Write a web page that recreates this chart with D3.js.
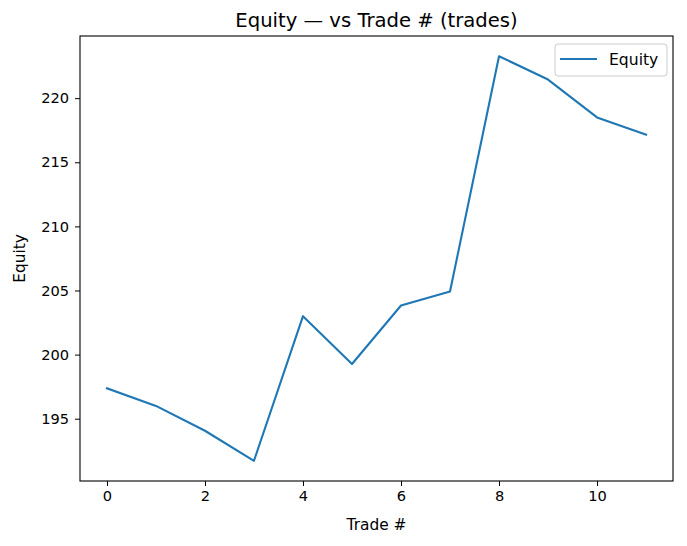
<!DOCTYPE html>
<html><head><meta charset="utf-8">
<script src="https://cdn.jsdelivr.net/npm/d3@7"></script>
<style>body{margin:0;background:#fff}svg{display:block;font-family:"DejaVu Sans",sans-serif}</style>
</head><body><svg id="c" width="687" height="546"></svg>
<script>
const trades = [0,1,2,3,4,5,6,7,8,9,10,11];
const equity = [197.37,196.0,194.06,191.72,203.0,199.27,203.83,204.92,223.27,221.45,218.5,217.15];
const xTicks = [0,2,4,6,8,10];
const yTicks = [195,200,205,210,215,220];
const titleText = "Equity — vs Trade # (trades)";
const xLabel = "Trade #", yLabel = "Equity", seriesName = "Equity";

const L=80,R=673,T=36,B=481;
const svg=d3.select("#c");
const xmin=d3.min(trades),xmax=d3.max(trades),xm=(xmax-xmin)*0.05;
const ymin=d3.min(equity),ymax=d3.max(equity),ym=(ymax-ymin)*0.05;
const x=d3.scaleLinear().domain([xmin-xm,xmax+xm]).range([L,R]);
const y=d3.scaleLinear().domain([ymin-ym,ymax+ym]).range([B,T]);

const gx=svg.append("g").attr("transform",`translate(0,${B})`)
  .call(d3.axisBottom(x).tickValues(xTicks).tickFormat(d3.format("d")).tickSize(5).tickPadding(5));
const gy=svg.append("g").attr("transform",`translate(${L},0)`)
  .call(d3.axisLeft(y).tickValues(yTicks).tickFormat(d3.format("d")).tickSize(5).tickPadding(6));
[gx,gy].forEach(g=>{g.select(".domain").remove();g.selectAll("text").attr("font-size",14.6).attr("fill","#000").attr("font-family","DejaVu Sans");g.selectAll("line").attr("stroke","#000").attr("stroke-width",1);});

svg.append("path").datum(trades.map((t,i)=>[t,equity[i]]))
  .attr("fill","none").attr("stroke","#1f77b4").attr("stroke-width",2.1).attr("stroke-linejoin","round").attr("stroke-linecap","square")
  .attr("d",d3.line().x(d=>x(d[0])).y(d=>y(d[1])));

svg.append("rect").attr("x",L).attr("y",T).attr("width",R-L).attr("height",B-T).attr("fill","none").attr("stroke","#000").attr("stroke-width",1.1);

svg.append("text").attr("x",(L+R)/2).attr("y",27).attr("text-anchor","middle").attr("font-size",19.6).text(titleText);
svg.append("text").attr("x",(L+R)/2).attr("y",530).attr("text-anchor","middle").attr("font-size",15.4).text(xLabel);
svg.append("text").attr("transform",`translate(25,${(T+B)/2}) rotate(-90)`).attr("text-anchor","middle").attr("font-size",15.4).text(yLabel);

const lg=svg.append("g");
lg.append("rect").attr("x",555).attr("y",44).attr("width",112).attr("height",32).attr("rx",3).attr("fill","#fff").attr("fill-opacity",0.8).attr("stroke","#ccc");
lg.append("line").attr("x1",560).attr("x2",597).attr("y1",59).attr("y2",59).attr("stroke","#1f77b4").attr("stroke-width",2.1);
lg.append("text").attr("x",609).attr("y",65).attr("font-size",15.6).text(seriesName);
</script></body></html>
